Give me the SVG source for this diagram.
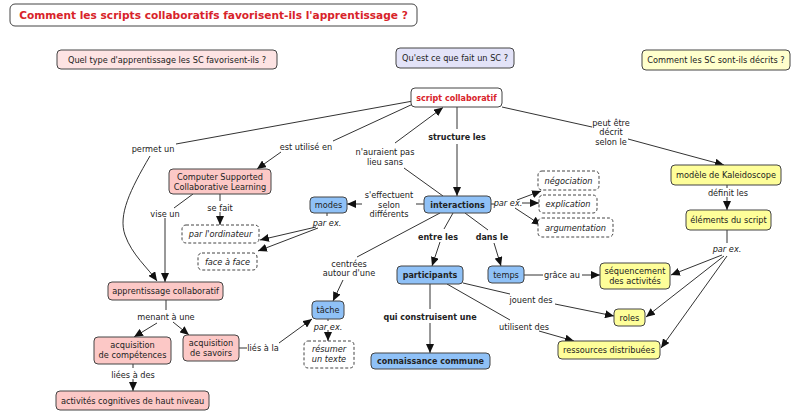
<svg xmlns="http://www.w3.org/2000/svg" width="800" height="419" viewBox="0 0 800 419">
<defs>
<marker id="ah" markerWidth="9" markerHeight="8" refX="9" refY="4" orient="auto" markerUnits="userSpaceOnUse"><path d="M0,0 L9,4 L0,8 Z" fill="#111"/></marker>
<style>
text{font-family:"DejaVu Sans",Verdana,sans-serif;font-size:8.2px;fill:#222;text-anchor:middle}
.b{font-weight:bold;font-size:8px}
.i{font-style:italic}
.r{fill:#d8232a}
.n{stroke:#444;stroke-width:1}
.pk{fill:#fcc8c6}
.bl{fill:#8fc1f7}
.ye{fill:#fefe99}
.wh{fill:#fff}
.ds{fill:#fff;stroke:#444;stroke-dasharray:3,2}
.c path,.c line{stroke:#333;stroke-width:1;fill:none}
.a{marker-end:url(#ah)}
</style>
</defs>
<rect width="800" height="419" fill="#fff"/>

<g id="title"><rect class="n wh" x="10" y="4" width="407" height="22" rx="5"/><text class="b r" x="213.5" y="19" style="font-size:10.6px">Comment les scripts collaboratifs favorisent-ils l'apprentissage ?</text></g>
<g id="q1"><rect class="n" fill="#fde3e3" x="57" y="50" width="220" height="19" rx="4"/><text x="167" y="62.5">Quel type d'apprentissage les SC favorisent-ils ?</text></g>
<g id="q2"><rect class="n" fill="#e3e3f8" x="396" y="48" width="118" height="20" rx="4"/><text x="455" y="61">Qu'est ce que fait un SC ?</text></g>
<g id="q3"><rect class="n" fill="#ffffcc" x="642" y="50" width="148" height="20" rx="4"/><text x="716" y="63">Comment les SC sont-ils décrits ?</text></g>

<g class="c" id="connectors">
<line x1="413" y1="101" x2="176" y2="144"/>
<path class="a" d="M150,156 C130,190 118,215 125,235 C132,255 148,268 157,281"/>
<line x1="413" y1="104" x2="333" y2="141"/>
<line class="a" x1="281" y1="152" x2="257" y2="169"/>
<line x1="443" y1="196" x2="404" y2="168"/>
<line class="a" x1="395" y1="143" x2="443" y2="107.5"/>
<line x1="457" y1="107" x2="457" y2="129"/>
<line class="a" x1="457" y1="144" x2="457" y2="196"/>
<line x1="502" y1="107" x2="592" y2="127"/>
<line class="a" x1="628" y1="139" x2="724" y2="165"/>
<line x1="727" y1="185" x2="727" y2="188"/>
<line class="a" x1="727" y1="197" x2="727" y2="210"/>
<line x1="727" y1="230" x2="727" y2="243"/>
<line class="a" x1="722" y1="255" x2="671" y2="275"/>
<line class="a" x1="724" y1="256" x2="646" y2="317"/>
<line class="a" x1="727" y1="256" x2="661" y2="348"/>
<line x1="424" y1="204" x2="416" y2="204"/>
<line class="a" x1="362" y1="204" x2="347" y2="204"/>
<line x1="327" y1="213" x2="327" y2="216"/>
<line class="a" x1="316" y1="227" x2="260" y2="240"/>
<line class="a" x1="318" y1="228" x2="258" y2="251"/>
<line x1="453" y1="213" x2="444" y2="229"/>
<line class="a" x1="440" y1="242" x2="432" y2="266"/>
<line x1="465" y1="213" x2="488" y2="230"/>
<line class="a" x1="494" y1="243" x2="501" y2="266"/>
<line x1="491" y1="204" x2="495" y2="204"/>
<line class="a" x1="517" y1="200" x2="541" y2="191"/>
<line class="a" x1="522" y1="203" x2="539" y2="203"/>
<line class="a" x1="515" y1="208" x2="541" y2="225"/>
<line x1="440" y1="213" x2="357" y2="257"/>
<line class="a" x1="343" y1="280" x2="333" y2="301"/>
<line x1="524" y1="275" x2="543" y2="275"/>
<line class="a" x1="582" y1="275" x2="600" y2="275"/>
<line x1="463" y1="283" x2="510" y2="294"/>
<line class="a" x1="555" y1="304" x2="614" y2="316"/>
<line x1="447" y1="284" x2="510" y2="320"/>
<line class="a" x1="539" y1="331" x2="574" y2="341"/>
<line x1="430" y1="284" x2="430" y2="309"/>
<line class="a" x1="430" y1="323" x2="430" y2="353"/>
<line x1="193" y1="194" x2="174" y2="208"/>
<line class="a" x1="165" y1="218" x2="165" y2="282"/>
<line x1="220" y1="194" x2="220" y2="201"/>
<line class="a" x1="220" y1="212" x2="220" y2="225"/>
<line x1="166" y1="300" x2="166" y2="310"/>
<line class="a" x1="157" y1="323" x2="134" y2="337"/>
<line class="a" x1="173" y1="322" x2="189" y2="335"/>
<line x1="133" y1="364" x2="133" y2="368"/>
<line class="a" x1="133" y1="379" x2="133" y2="391"/>
<line x1="239" y1="348" x2="247" y2="348"/>
<line class="a" x1="279" y1="343" x2="312" y2="319"/>
<line x1="328" y1="319" x2="328" y2="321"/>
<line class="a" x1="328" y1="330" x2="328" y2="341"/>
</g>

<g id="labels">
<text x="153" y="152">permet un</text>
<text x="306" y="150">est utilisé en</text>
<text x="385" y="155">n'auraient pas</text>
<text x="385" y="165">lieu sans</text>
<text class="b" x="457" y="140">structure les</text>
<text x="611" y="126">peut être</text>
<text x="611" y="135">décrit</text>
<text x="611" y="145">selon le</text>
<text x="728" y="196">définit les</text>
<text class="i" x="727" y="252">par ex.</text>
<text x="389" y="198">s'effectuent</text>
<text x="389" y="208">selon</text>
<text x="389" y="217">différents</text>
<text class="i" x="508" y="206">par ex.</text>
<text class="i" x="327" y="226">par ex.</text>
<text class="b" x="438" y="240">entre les</text>
<text class="b" x="492" y="240">dans le</text>
<text x="349" y="267">centrées</text>
<text x="349" y="276">autour d'une</text>
<text x="562" y="278">grâce au</text>
<text x="531" y="303">jouent des</text>
<text x="524" y="330">utilisent des</text>
<text class="b" x="430" y="320">qui construisent une</text>
<text x="165" y="217">vise un</text>
<text x="220" y="211">se fait</text>
<text x="166" y="320">menant à une</text>
<text x="133" y="378">liées à des</text>
<text x="263" y="351">liés à la</text>
<text class="i" x="328" y="330">par ex.</text>
</g>

<g id="script"><rect class="n wh" x="411" y="88" width="91" height="19" rx="4"/><text class="b r" x="456.5" y="100.5">script collaboratif</text></g>
<g id="interactions"><rect class="n bl" x="424" y="196" width="67" height="17" rx="4"/><text class="b" x="457.5" y="207.5">interactions</text></g>
<g id="modes"><rect class="n bl" x="310" y="197" width="37" height="16" rx="4"/><text x="328.5" y="208">modes</text></g>
<g id="negociation"><rect class="ds" x="538" y="171" width="61" height="19" rx="4"/><text class="i" x="568.5" y="183.5">négociation</text></g>
<g id="explication"><rect class="ds" x="539" y="195" width="58" height="18" rx="4"/><text class="i" x="568" y="207">explication</text></g>
<g id="argumentation"><rect class="ds" x="538" y="218" width="75" height="19" rx="4"/><text class="i" x="575.5" y="230.5">argumentation</text></g>
<g id="participants"><rect class="n bl" x="397" y="266" width="66" height="18" rx="4"/><text class="b" x="430" y="278">participants</text></g>
<g id="temps"><rect class="n bl" x="488" y="266" width="36" height="17" rx="4"/><text x="506" y="277.5">temps</text></g>
<g id="sequencement"><rect class="n ye" x="600" y="263" width="70" height="26" rx="4"/><text x="635" y="273.5">séquencement</text><text x="635" y="283.5">des activités</text></g>
<g id="kaleidoscope"><rect class="n ye" x="671" y="165" width="110" height="20" rx="4"/><text x="726" y="178">modèle de Kaleidoscope</text></g>
<g id="elements"><rect class="n ye" x="686" y="210" width="85" height="20" rx="4"/><text x="728.5" y="223">éléments du script</text></g>
<g id="roles"><rect class="n ye" x="614" y="309" width="31" height="17" rx="4"/><text x="629.5" y="320.5">roles</text></g>
<g id="ressources"><rect class="n ye" x="558" y="341" width="102" height="18" rx="4"/><text x="609" y="353">ressources distribuées</text></g>
<g id="connaissance"><rect class="n bl" x="371" y="353" width="119" height="16" rx="4"/><text class="b" x="430.5" y="364">connaissance commune</text></g>
<g id="tache"><rect class="n bl" x="312" y="301" width="32" height="18" rx="4"/><text x="328" y="313">tâche</text></g>
<g id="resumer"><rect class="ds" x="304" y="341" width="50" height="27" rx="4"/><text class="i" x="329" y="352">résumer</text><text class="i" x="329" y="362">un texte</text></g>
<g id="apprentissage"><rect class="n pk" x="108" y="282" width="115" height="18" rx="4"/><text x="165.5" y="294">apprentissage collaboratif</text></g>
<g id="competences"><rect class="n pk" x="94" y="337" width="77" height="27" rx="4"/><text x="132.5" y="348">acquisition</text><text x="132.5" y="358">de compétences</text></g>
<g id="savoirs"><rect class="n pk" x="183" y="335" width="56" height="26" rx="4"/><text x="211" y="346">acquisition</text><text x="211" y="356">de savoirs</text></g>
<g id="activites"><rect class="n pk" x="56" y="391" width="153" height="19" rx="4"/><text x="132.5" y="403.5">activités cognitives de haut niveau</text></g>
<g id="cscl"><rect class="n pk" x="169" y="169" width="102" height="25" rx="4"/><text x="220" y="179.5">Computer Supported</text><text x="220" y="189.5">Collaborative Learning</text></g>
<g id="ordinateur"><rect class="ds" x="182" y="225" width="77" height="18" rx="4"/><text class="i" x="220.5" y="237">par l'ordinateur</text></g>
<g id="faceaface"><rect class="ds" x="198" y="253" width="59" height="17" rx="4"/><text class="i" x="227.5" y="264.5">face à face</text></g>
</svg>
